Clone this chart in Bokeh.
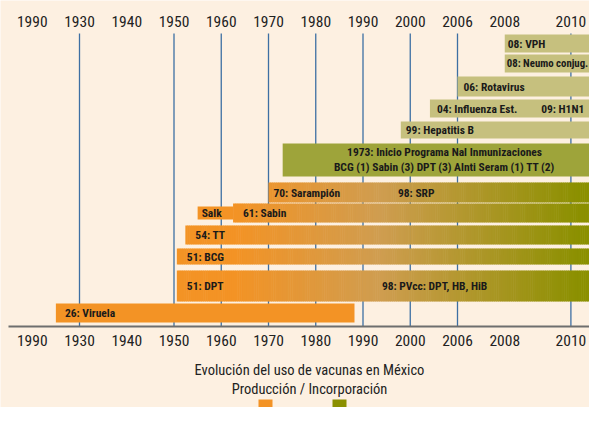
import numpy as np
from bokeh.plotting import figure
from bokeh.models import Range1d
from bokeh.core.properties import value
from bokeh.embed import file_html
from bokeh.resources import INLINE

# ---------------- data ----------------
TICK_YEARS = [1920, 1930, 1940, 1950, 1960, 1970, 1980, 1990, 2000, 2006, 2008, 2010]
TICK_LABELS = ["1990", "1930", "1940", "1950", "1960", "1970", "1980", "1990", "2000", "2006", "2008", "2010"]
GRID_YEARS = [1930, 1950, 1960, 1970, 1980, 1990, 2000, 2006, 2010]

RECENT_LABELS = ["08: VPH", "08: Neumo conjug.", "06: Rotavirus", "04: Influenza Est.", "99: Hepatitis B"]
RECENT_START = [2008, 2008, 2006, 2002.5, 1998]

PROGRAM_START = 1973
PROGRAM_LINES = ["1973: Inicio Programa Nal Inmunizaciones",
                 "BCG (1) Sabin (3) DPT (3) Alnti Seram (1) TT (2)"]

GRAD_LABELS = ["70: Sarampión", "61: Sabin", "54: TT", "51: BCG", "51: DPT"]
GRAD_START = [1970, 1962.5, 1952.4, 1950.6, 1950.6]

SALK_LABEL = "Salk"
SALK_START, SALK_END = 1955, 1962.5
VIRUELA_LABEL = "26: Viruela"
VIRUELA_START, VIRUELA_END = 1925, 1988.2

EXTRA_LABELS = ["09: H1N1", "98: SRP", "98: PVcc: DPT, HB, HiB"]
EXTRA_YEARS = [2009.1, 1997.4, 1994.0]

TITLE_1 = "Evolución del uso de vacunas en México"
TITLE_2 = "Producción / Incorporación"

# ---------------- layout / style ----------------
W, H = 589, 407
PX0, PXU = 31.75, 47.25            # pixel position of slot 0, pixels per slot
SLOTS = [0, 1, 2, 3, 4, 5, 6, 7, 8, 9, 10, 11.4]


def px(v):
    return (v - PX0) / PXU


def sx(year):
    return float(np.interp(year, TICK_YEARS, SLOTS))


RIGHT = px(606)
BG = "#fdf0e1"
ORANGE = (243, 147, 37)
TAN = (207, 157, 80)
OLIVE = (139, 144, 0)
KHAKI = "#c6c07e"
PROGRAM_C = "#9ea43a"
BLUE = "#3d6fa3"
TXT = "#1a1a1a"
FONT = "Roboto Condensed, Open Sans Condensed, DejaVu Sans Condensed, sans-serif"

RECENT_ROWS = [(34, 52), (54, 72), (76, 96), (99, 117), (121, 138)]
RECENT_OFF = [3, 2, 6, 7, 5]
RECENT_SIZE = ["11.5px", "10.8px", "11.5px", "11.5px", "11.5px"]
PROGRAM_ROW = (143, 176)
GRAD_ROWS = [(182, 202), (203, 222), (225, 244), (248, 264), (270, 301)]
GRAD_OFF = [5, 10, 10, 10, 10]
SALK_ROW = (206, 219)
VIRUELA_ROW = (303, 322)

p = figure(width=W, height=H, output_backend="svg", toolbar_location=None,
           x_range=Range1d(px(0), px(W)), y_range=Range1d(H, 0),
           min_border=0, min_border_left=0, min_border_right=0,
           min_border_top=0, min_border_bottom=0)
p.background_fill_color = BG
p.border_fill_color = BG
p.outline_line_color = None
p.axis.visible = False
p.grid.visible = False

# vertical grid lines
gx = [sx(y) for y in GRID_YEARS]
p.segment(x0=gx, x1=gx, y0=[33] * len(gx), y1=[326] * len(gx), line_color=BLUE, line_width=1.3)

# recent (khaki) bars
p.quad(left=[sx(y) for y in RECENT_START], right=[RIGHT] * len(RECENT_START),
       top=[r[0] for r in RECENT_ROWS], bottom=[r[1] for r in RECENT_ROWS],
       fill_color=KHAKI, line_color=None)

# program bar
p.quad(left=[sx(PROGRAM_START)], right=[RIGHT], top=[PROGRAM_ROW[0]], bottom=[PROGRAM_ROW[1]],
       fill_color=PROGRAM_C, line_color=None)


def grad_color(s):
    stops = [px(235), px(380), px(580)]
    cols = [ORANGE, TAN, OLIVE]
    c = [int(round(np.interp(s, stops, [cc[i] for cc in cols]))) for i in range(3)]
    return "#%02x%02x%02x" % tuple(c)


# gradient bars built from thin slices
L, R, T, B, C = [], [], [], [], []
step = 0.04
for start, (t, b) in zip(GRAD_START, GRAD_ROWS):
    s0 = sx(start)
    edges = np.arange(s0, RIGHT + step, step)
    for a, e in zip(edges[:-1], edges[1:]):
        L.append(a); R.append(e + 0.012); T.append(t); B.append(b)
        C.append(grad_color((a + e) / 2))
p.quad(left=L, right=R, top=T, bottom=B, fill_color=C, line_color=None)

# Salk and Viruela (solid orange)
orange_hex = "#%02x%02x%02x" % ORANGE
p.quad(left=[sx(SALK_START), sx(VIRUELA_START)], right=[sx(SALK_END), sx(VIRUELA_END)],
       top=[SALK_ROW[0], VIRUELA_ROW[0]], bottom=[SALK_ROW[1], VIRUELA_ROW[1]],
       fill_color=orange_hex, line_color=None)

# bar labels
lab_kw = dict(text_font=value(FONT), text_font_style="bold", text_font_size="11.5px",
              text_color=TXT, text_align="left", text_baseline="middle")
p.text(x=[sx(y) for y in RECENT_START], y=[(a + b) / 2 for a, b in RECENT_ROWS],
       text=RECENT_LABELS, x_offset=RECENT_OFF,
       **{**lab_kw, "text_font_size": RECENT_SIZE})
p.text(x=[sx(y) for y in GRAD_START], y=[(a + b) / 2 for a, b in GRAD_ROWS],
       text=GRAD_LABELS, x_offset=GRAD_OFF, **lab_kw)
p.text(x=[sx(SALK_START), sx(VIRUELA_START)],
       y=[(SALK_ROW[0] + SALK_ROW[1]) / 2, (VIRUELA_ROW[0] + VIRUELA_ROW[1]) / 2],
       text=[SALK_LABEL, VIRUELA_LABEL], x_offset=[4, 9], **lab_kw)
extra_y = [(RECENT_ROWS[3][0] + RECENT_ROWS[3][1]) / 2,
           (GRAD_ROWS[0][0] + GRAD_ROWS[0][1]) / 2,
           (GRAD_ROWS[4][0] + GRAD_ROWS[4][1]) / 2]
p.text(x=[sx(y) for y in EXTRA_YEARS], y=extra_y, text=EXTRA_LABELS, **lab_kw)

pc = (sx(PROGRAM_START) + RIGHT) / 2
p.text(x=[pc, pc], y=[151, 166], text=PROGRAM_LINES,
       **{**lab_kw, "text_align": "center"})

# axis line
p.segment(x0=[px(8)], x1=[RIGHT], y0=[326], y1=[326], line_color="#6e6e6e", line_width=2)

# tick labels (top and bottom)
tx = [sx(y) for y in TICK_YEARS]
tick_kw = dict(text_font=value(FONT), text_font_size="15.5px", text_color="#222222",
               text_align="center", text_baseline="middle")
p.text(x=tx, y=[21] * len(tx), text=TICK_LABELS, **tick_kw)
p.text(x=tx, y=[340] * len(tx), text=TICK_LABELS, **tick_kw)

# title + legend swatches
tc = px(309)
title_kw = dict(text_font=value(FONT), text_font_size="14.5px", text_color="#222222",
                text_align="center", text_baseline="middle")
p.text(x=[tc, tc], y=[370, 389], text=[TITLE_1, TITLE_2], **title_kw)
p.quad(left=[px(258), px(332)], right=[px(272), px(346)], top=[399, 399], bottom=[H, H],
       fill_color=[orange_hex, "#%02x%02x%02x" % OLIVE], line_color=None)

open("out.html", "w").write(file_html(p, INLINE))
